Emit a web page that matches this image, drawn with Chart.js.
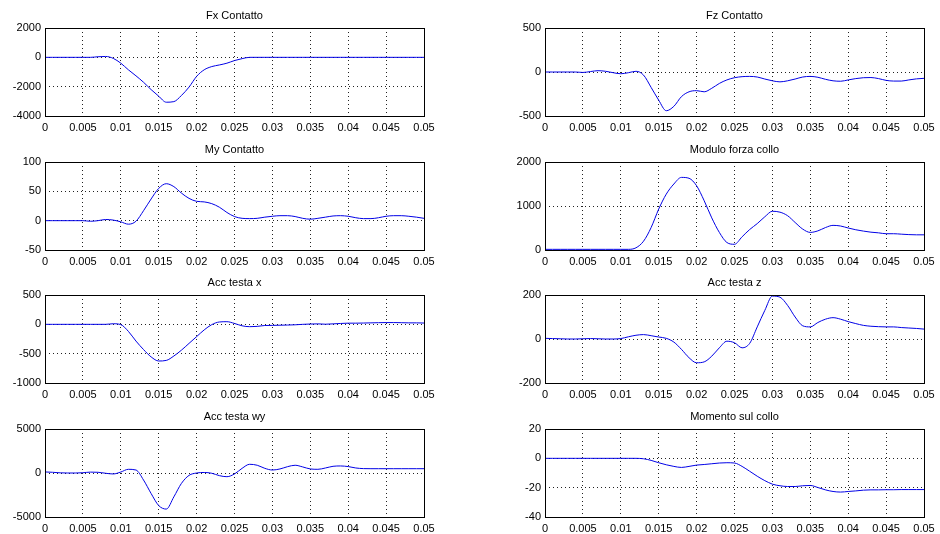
<!DOCTYPE html>
<html>
<head>
<meta charset="utf-8">
<script src="https://cdn.jsdelivr.net/npm/chart.js@4/dist/chart.umd.min.js"></script>
<style>
  body { margin: 0; background: #fff; width: 940px; height: 534px; overflow: hidden; position: relative; }
  canvas { position: absolute; }
</style>
</head>
<body>
<canvas id="g0" width="470" height="127" style="left:0;top:6px"></canvas>
<canvas id="g1" width="470" height="127" style="left:470px;top:6px"></canvas>
<canvas id="g2" width="470" height="127" style="left:0;top:140px"></canvas>
<canvas id="g3" width="470" height="127" style="left:470px;top:140px"></canvas>
<canvas id="g4" width="470" height="127" style="left:0;top:273px"></canvas>
<canvas id="g5" width="470" height="127" style="left:470px;top:273px"></canvas>
<canvas id="g6" width="470" height="127" style="left:0;top:407px"></canvas>
<canvas id="g7" width="470" height="127" style="left:470px;top:407px"></canvas>
<script>
var tempo = [0, 0.001, 0.002, 0.003, 0.004, 0.005, 0.006, 0.007, 0.008, 0.009,
  0.01, 0.011, 0.012, 0.013, 0.014, 0.015, 0.016, 0.017, 0.018, 0.019,
  0.02, 0.021, 0.022, 0.023, 0.024, 0.025, 0.026, 0.027, 0.028, 0.029,
  0.03, 0.031, 0.032, 0.033, 0.034, 0.035, 0.036, 0.037, 0.038, 0.039,
  0.04, 0.041, 0.042, 0.043, 0.044, 0.045, 0.046, 0.047, 0.048, 0.049, 0.05];

var fxContatto = [0, 0, 0, 0, 0, 0, 0, 40, 60, -70,
  -400, -850, -1260, -1700, -2200, -2650, -3060, -3020, -2600, -2030,
  -1300, -850, -630, -520, -400, -220, -90, 0, 0, 0,
  0, 0, 0, 0, 0, 0, 0, 0, 0, 0,
  0, 0, 0, 0, 0, 0, 0, 0, 0, 0, 0];

var fzContatto = [0, 0, 0, 0, 0, -5, 5, 15, 8, -8,
  -20, -8, 8, -35, -175, -320, -440, -390, -280, -225,
  -212, -225, -185, -130, -90, -65, -53, -50, -57, -80,
  -100, -112, -100, -80, -57, -50, -60, -83, -100, -105,
  -90, -75, -65, -63, -75, -95, -103, -103, -90, -78, -72];

var myContatto = [0, 0, 0, 0, 0, 0, -1, 0, 2, 1,
  -2, -6, -1, 17, 37, 55, 63, 58, 47, 38,
  33, 32, 29, 23, 14, 7, 4, 3.5, 4, 6,
  7.5, 8.5, 8.5, 7, 4, 2.5, 4, 6, 8, 8.5,
  7.5, 5, 3.5, 3.5, 5, 7.5, 8.5, 8.5, 7.5, 6, 4];

var moduloForzaCollo = [15, 15, 15, 15, 15, 15, 15, 15, 15, 15,
  15, 15, 50, 200, 510, 930, 1270, 1500, 1650, 1630,
  1460, 1120, 730, 400, 170, 130, 300, 465, 600, 755,
  880, 860, 780, 625, 475, 400, 435, 510, 560, 545,
  500, 460, 430, 405, 390, 370, 370, 360, 350, 345, 345];

var accTestaX = [0, 0, 0, 0, 0, 0, 0, 0, 0, 10,
  -5, -120, -285, -430, -555, -625, -615, -540, -440, -325,
  -210, -95, -5, 40, 45, 15, -25, -40, -35, -20,
  -18, -15, -12, -8, 0, 5, 8, 2, 8, 15,
  20, 20, 22, 25, 28, 30, 30, 28, 25, 25, 22];

var accTestaZ = [3, 2, 1, 0, 0, 1, 2, 1, 0, 0,
  2, 10, 17, 20, 15, 9, 3, -14, -47, -85,
  -108, -104, -78, -40, -10, -17, -40, -20, 55, 130,
  195, 190, 153, 100, 60, 55, 75, 90, 97, 90,
  79, 70, 62, 58, 56, 55, 55, 52, 50, 48, 45];

var accTestaWy = [120, 80, 20, 0, 0, 30, 100, 80, -30, -110,
  110, 420, 340, -800, -2330, -3700, -4100, -2710, -1180, -270,
  0, 60, -30, -300, -420, -110, 530, 990, 880, 530,
  340, 460, 720, 880, 690, 460, 420, 570, 760, 800,
  730, 570, 500, 490, 490, 490, 490, 490, 490, 490, 490];

var momentoCollo = [0, 0, 0, 0, 0, 0, 0, 0, 0, 0,
  0, 0, 0, -0.3, -1.4, -3, -4.4, -5.5, -6.2, -5.5,
  -4.6, -4.2, -3.7, -3.2, -3, -3.2, -5.5, -8.8, -12.2, -15.2,
  -17.6, -18.7, -19.2, -19.2, -18.7, -18.5, -19.9, -21.5, -22.6, -23,
  -22.6, -22.2, -21.7, -21.5, -21.5, -21.4, -21.4, -21.3, -21.3, -21.3, -21.3];

var titoli = ['Fx Contatto', 'Fz Contatto', 'My Contatto', 'Modulo forza collo',
  'Acc testa x', 'Acc testa z', 'Acc testa wy', 'Momento sul collo'];
var serie = [fxContatto, fzContatto, myContatto, moduloForzaCollo,
  accTestaX, accTestaZ, accTestaWy, momentoCollo];
var yMin = [-4000, -500, -50, 0, -1000, -200, -5000, -40];
var yMax = [2000, 500, 100, 2000, 500, 200, 5000, 20];
var yPasso = [2000, 500, 50, 1000, 500, 200, 5000, 20];

var font = { family: 'Liberation Sans, Arial, sans-serif', size: 11 };

// riquadro nero attorno all'area del grafico, come in matlab
var riquadro = {
  id: 'riquadro',
  afterDraw: function (chart) {
    var a = chart.chartArea;
    var ctx = chart.ctx;
    ctx.save();
    ctx.strokeStyle = '#000';
    ctx.lineWidth = 1;
    ctx.strokeRect(Math.round(a.left) + 0.5, Math.round(a.top) + 0.5,
      Math.round(a.right - a.left), Math.round(a.bottom - a.top));
    ctx.restore();
  }
};

function creaGrafico(i) {
  var destra = i % 2 == 1;
  var punti = tempo.map(function (t, k) { return { x: t, y: serie[i][k] }; });

  new Chart(document.getElementById('g' + i), {
    type: 'line',
    data: {
      datasets: [{
        data: punti,
        borderColor: '#0000e6',
        borderWidth: 1,
        pointRadius: 0,
        cubicInterpolationMode: 'monotone',
        fill: false
      }]
    },
    options: {
      responsive: false,
      animation: false,
      events: [],
      layout: { padding: { left: 0, top: 0, bottom: 0, right: destra ? 16 : 46 } },
      plugins: {
        legend: { display: false },
        tooltip: { enabled: false },
        title: {
          display: true,
          text: titoli[i],
          color: '#000',
          fullSize: false,
          font: { family: font.family, size: 11, weight: 'normal', lineHeight: '13px' },
          padding: { top: 3, bottom: 6 }
        }
      },
      scales: {
        x: {
          type: 'linear',
          min: 0,
          max: 0.05,
          border: { display: false, dash: [1, 3] },
          grid: { color: '#222', drawTicks: false },
          ticks: {
            stepSize: 0.005,
            autoSkip: false,
            maxRotation: 0,
            padding: 5,
            color: '#000',
            font: font,
            callback: function (v) { return String(parseFloat(v.toFixed(4))); }
          },
          afterFit: function (s) { s.height = 17; }
        },
        y: {
          min: yMin[i],
          max: yMax[i],
          border: { display: false, dash: [1, 3] },
          grid: { color: '#222', drawTicks: false },
          ticks: {
            stepSize: yPasso[i],
            padding: 4,
            color: '#000',
            font: font,
            callback: function (v) { return String(v); }
          },
          afterFit: function (s) { s.width = destra ? 75 : 45; }
        }
      }
    },
    plugins: [riquadro]
  });
}

for (var i = 0; i < 8; i++) {
  creaGrafico(i);
}
</script>
</body>
</html>
